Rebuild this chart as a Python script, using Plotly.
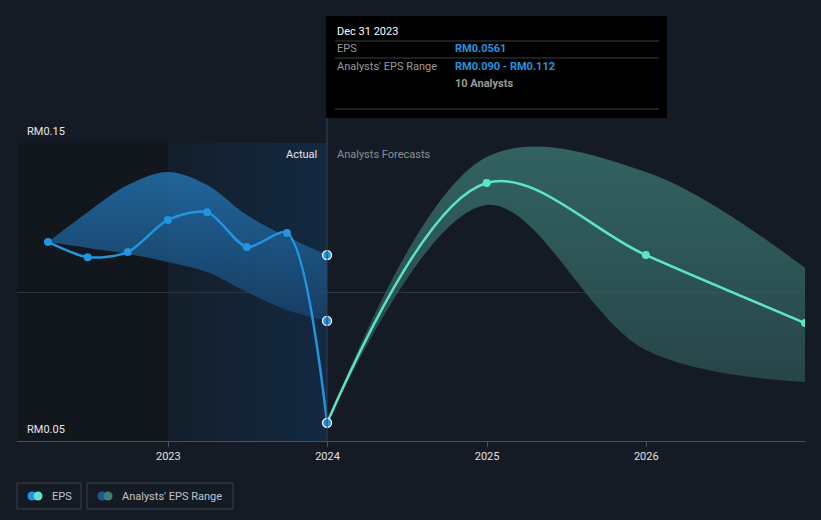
import plotly.graph_objects as go
import pandas as pd

# ---------------- data ----------------
actual_dates = ["2022-03-31", "2022-06-30", "2022-09-30", "2022-12-31",
                "2023-03-31", "2023-06-30", "2023-09-30", "2023-12-31"]
actual_eps = [0.1168, 0.1117, 0.1134, 0.1242, 0.1268, 0.1151, 0.1198, 0.0561]

past_range_dates = ["2022-03-31", "2022-06-30", "2022-09-30", "2022-12-31",
                    "2023-03-31", "2023-06-30", "2023-09-30", "2023-12-31"]
past_range_high = [0.1168, 0.1268, 0.1359, 0.1403, 0.1359, 0.1258, 0.1185, 0.1124]
past_range_low = [0.1168, 0.1148, 0.1128, 0.1101, 0.1067, 0.1000, 0.0940, 0.0903]

forecast_dates = ["2023-12-31", "2024-12-31", "2025-12-31", "2026-12-31"]
forecast_eps = [0.0561, 0.1366, 0.1124, 0.0896]
forecast_high = [0.0561, 0.1453, 0.1403, 0.1081]
forecast_low = [0.0561, 0.1292, 0.0805, 0.0698]

x_ticks = ["2023-01-01", "2024-01-01", "2025-01-01", "2026-01-01"]
x_tick_labels = ["2023", "2024", "2025", "2026"]
y_labels = [(0.15, "RM0.15"), (0.05, "RM0.05")]
y_grid = [0.05, 0.10, 0.15]

tooltip_date = "Dec 31 2023"
tooltip_eps = "RM0.0561"
tooltip_range = "RM0.090 - RM0.112"
tooltip_analysts = "10 Analysts"

# ---------------- style ----------------
W, H = 821, 520
L, R, T, B = 17, 16, 143, 79
BG = "#151b25"
BLUE = "#2394df"
AQUA = "#5de3cb"
FONT = "Roboto"
X_START, X_END = "2022-01-19", "2026-12-31"

def px(xp):
    return (xp - L) / (W - L - R)

def py(yp):
    return (H - B - yp) / (H - T - B)

fig = go.Figure()

# past analysts' range
fig.add_trace(go.Scatter(x=past_range_dates, y=past_range_low, mode="lines",
                         line=dict(width=0, shape="spline", smoothing=1.0),
                         hoverinfo="skip", showlegend=False))
fig.add_trace(go.Scatter(x=past_range_dates, y=past_range_high, mode="lines",
                         line=dict(width=0, shape="spline", smoothing=1.0),
                         fill="tonexty",
                         fillgradient=dict(type="vertical",
                                           colorscale=[[0, "rgba(24,68,110,0.75)"],
                                                       [1, "rgba(36,124,190,0.75)"]]),
                         hoverinfo="skip", showlegend=False))

# forecast range
fig.add_trace(go.Scatter(x=forecast_dates, y=forecast_low, mode="lines",
                         line=dict(width=0, shape="spline", smoothing=1.0),
                         hoverinfo="skip", showlegend=False))
fig.add_trace(go.Scatter(x=forecast_dates, y=forecast_high, mode="lines",
                         line=dict(width=0, shape="spline", smoothing=1.0),
                         fill="tonexty",
                         fillgradient=dict(type="vertical",
                                           colorscale=[[0, "rgba(41,72,75,0.8)"],
                                                       [1, "rgba(62,128,122,0.7)"]]),
                         hoverinfo="skip", showlegend=False))

# forecast EPS line
fig.add_trace(go.Scatter(x=forecast_dates, y=forecast_eps, mode="lines+markers",
                         line=dict(color=AQUA, width=2.5, shape="spline", smoothing=1.0),
                         marker=dict(color=AQUA, size=8),
                         hoverinfo="skip", showlegend=False))

# actual EPS line
fig.add_trace(go.Scatter(x=actual_dates, y=actual_eps, mode="lines+markers",
                         line=dict(color=BLUE, width=2.5, shape="spline", smoothing=0.8),
                         marker=dict(color=BLUE, size=8),
                         hoverinfo="skip", showlegend=False))

# highlighted points at hovered date
fig.add_trace(go.Scatter(
    x=[past_range_dates[-1], past_range_dates[-1], actual_dates[-1]],
    y=[past_range_high[-1], past_range_low[-1], actual_eps[-1]],
    mode="markers",
    marker=dict(color=BLUE, size=9, line=dict(color="white", width=1.3)),
    hoverinfo="skip", showlegend=False))

shapes = []
# past background: dark area, then blue horizontal gradient for the last year
shapes.append(dict(type="rect", xref="x", yref="y", x0=X_START, x1="2023-01-01",
                   y0=0.05, y1=0.15, fillcolor="#12161d", line=dict(width=0), layer="below"))
c0 = (20, 30, 43)
c1 = (19, 42, 65)
t0 = pd.Timestamp("2023-01-01")
t1 = pd.Timestamp("2023-12-31")
N = 40
for i in range(N):
    f = (i + 0.5) / N
    col = "rgb(%d,%d,%d)" % tuple(round(a + (b - a) * f) for a, b in zip(c0, c1))
    xa = t0 + (t1 - t0) * i / N
    # each band runs to the end so the next one overlaps it: no seams
    shapes.append(dict(type="rect", xref="x", yref="y", x0=xa, x1=t1,
                       y0=0.05, y1=0.15, fillcolor=col, line=dict(width=0), layer="below"))
# vertical line at 2023 boundary
shapes.append(dict(type="line", xref="x", yref="paper", x0="2023-01-01", x1="2023-01-01",
                   y0=0, y1=1, line=dict(color="#1d3249", width=1), layer="below"))
# hover line
shapes.append(dict(type="line", xref="x", yref="paper", x0="2023-12-31", x1="2023-12-31",
                   y0=0, y1=py(118), line=dict(color="#2b4660", width=1)))
# tooltip
shapes.append(dict(type="rect", xref="paper", yref="paper", x0=px(326), x1=px(667),
                   y0=py(118), y1=py(16), fillcolor="#000000", line=dict(width=0)))
for yy in (41, 58, 109):
    shapes.append(dict(type="line", xref="paper", yref="paper", x0=px(335), x1=px(659),
                       y0=py(yy), y1=py(yy), line=dict(color="#3c3f44", width=1)))
# legend boxes
for x0, x1 in ((17, 81), (87, 233)):
    shapes.append(dict(type="rect", xref="paper", yref="paper", x0=px(x0), x1=px(x1),
                       y0=py(509), y1=py(483), fillcolor="rgba(0,0,0,0)",
                       line=dict(color="#3b4049", width=1)))

def circle(cx, cy, r, color):
    return dict(type="circle", xref="paper", yref="paper",
                x0=px(cx - r), x1=px(cx + r), y0=py(cy + r), y1=py(cy - r),
                fillcolor=color, line=dict(width=0))
shapes += [circle(32, 496, 4.5, BLUE), circle(38, 496, 4.5, AQUA),
           circle(102, 496, 4.5, "#1d5a8a"), circle(108, 496, 4.5, "#3f7f7b")]

ann = []
def text(xp, yp, s, color, size=11, anchor="left", bold=False):
    ann.append(dict(xref="paper", yref="paper", x=px(xp), y=py(yp),
                    text=(f"<b>{s}</b>" if bold else s),
                    showarrow=False, xanchor=anchor, yanchor="middle",
                    font=dict(family=FONT, size=size, color=color)))

for v, s in y_labels:
    ypix = (H - B) - (v - 0.05) / 0.10 * (H - T - B)
    text(25, ypix - 12, s, "#e6e6e6")
text(319, 154, "Actual", "#e6e6e6", anchor="right")
text(335, 154, "Analysts Forecasts", "#8a8f96")
text(335, 31, tooltip_date, "#ffffff")
text(335, 49, "EPS", "#9a9a9a")
text(453, 49, tooltip_eps, BLUE, bold=True)
text(335, 66, "Analysts' EPS Range", "#9a9a9a")
text(453, 66, tooltip_range, BLUE, bold=True)
text(453, 83, tooltip_analysts, "#9a9a9a", bold=True)
text(50, 496, "EPS", "#c0c4ca")
text(120, 496, "Analysts' EPS Range", "#c0c4ca")

fig.update_layout(
    width=W, height=H,
    margin=dict(l=L, r=R, t=T, b=B),
    paper_bgcolor=BG, plot_bgcolor=BG,
    showlegend=False,
    shapes=shapes, annotations=ann,
    hovermode=False,
    font=dict(family=FONT),
)
fig.update_xaxes(type="date", range=[X_START, X_END],
                 tickvals=x_ticks, ticktext=x_tick_labels,
                 showgrid=False, zeroline=False,
                 showline=True, linecolor="#4b5058", linewidth=1,
                 ticks="outside", ticklen=5, tickcolor="#4b5058",
                 tickfont=dict(family=FONT, size=11, color="#e0e0e0"))
fig.update_yaxes(range=[0.05, 0.15], tickvals=y_grid, showticklabels=False,
                 showgrid=True, gridcolor="#2f353e", gridwidth=1, zeroline=False)

fig.write_html("out.html", config={"displayModeBar": False})

# remove default page margin so the figure fills the window exactly
with open("out.html", "r", encoding="utf-8") as fh:
    page = fh.read()
page = page.replace("<head>", "<head><style>html,body{margin:0;padding:0;background:%s;overflow:hidden}</style>" % BG, 1)
with open("out.html", "w", encoding="utf-8") as fh:
    fh.write(page)
